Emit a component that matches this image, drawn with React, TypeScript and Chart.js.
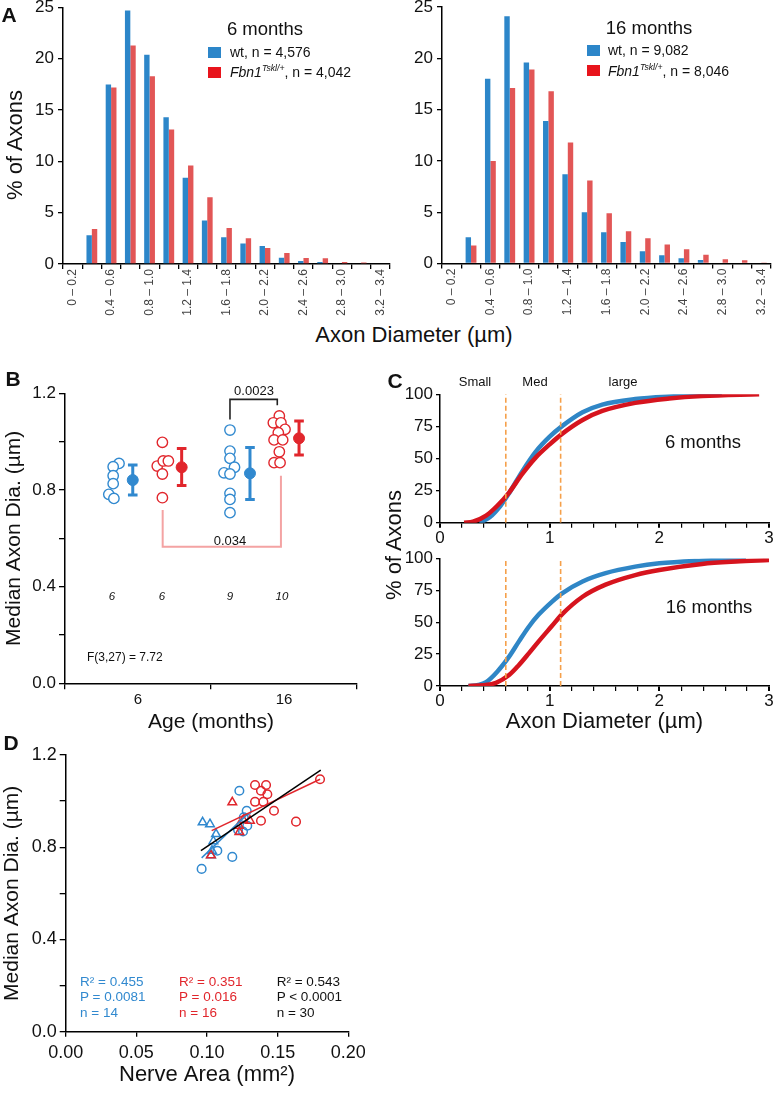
import React, { useEffect, useRef } from 'react';
import { Chart, registerables } from 'chart.js';
Chart.register(...registerables);

const FONT = '"Liberation Sans", Arial, Helvetica, sans-serif';
Chart.defaults.font.family = FONT;
Chart.defaults.color = '#111';

// ---------------- DATA ----------------
// Panel A: histograms (% of axons per diameter bin)
const binLabels = ['0 – 0.2', '0.2 – 0.4', '0.4 – 0.6', '0.6 – 0.8', '0.8 – 1.0', '1.0 – 1.2', '1.2 – 1.4', '1.4 – 1.6', '1.6 – 1.8', '1.8 – 2.0', '2.0 – 2.2', '2.2 – 2.4', '2.4 – 2.6', '2.6 – 2.8', '2.8 – 3.0', '3.0 – 3.2', '3.2 – 3.4'];
const histWt6 = [0, 2.8, 17.5, 24.7, 20.4, 14.3, 8.4, 4.25, 2.6, 2.0, 1.75, 0.6, 0.3, 0.2, 0, 0, 0];
const histFbn6 = [0, 3.4, 17.2, 21.3, 18.3, 13.1, 9.6, 6.5, 3.5, 2.5, 1.55, 1.07, 0.58, 0.55, 0.2, 0.15, 0];
const histWt16 = [0, 2.56, 18.0, 24.1, 19.6, 13.9, 8.7, 5.0, 3.05, 2.1, 1.2, 0.8, 0.5, 0.35, 0, 0, 0];
const histFbn16 = [0, 1.75, 10.0, 17.1, 18.9, 16.8, 11.8, 8.1, 4.9, 3.15, 2.45, 1.85, 1.4, 0.85, 0.42, 0.32, 0.05];

// Panel B: individual medians (x = jittered position, y = median diameter)
const bWt6X = [0.37, 0.33, 0.33, 0.33, 0.30, 0.335];
const bWt6Y = [0.910, 0.896, 0.859, 0.826, 0.782, 0.765];
const bFbn6X = [0.667, 0.632, 0.673, 0.708, 0.667, 0.667];
const bFbn6Y = [0.997, 0.899, 0.920, 0.920, 0.866, 0.768];
const bWt16X = [1.13, 1.13, 1.13, 1.161, 1.089, 1.13, 1.13, 1.13, 1.13];
const bWt16Y = [1.048, 0.961, 0.931, 0.894, 0.871, 0.866, 0.786, 0.761, 0.706];
const bFbn16X = [1.468, 1.427, 1.479, 1.507, 1.461, 1.432, 1.491, 1.468, 1.432, 1.473];
const bFbn16Y = [1.106, 1.078, 1.078, 1.051, 1.037, 1.007, 1.007, 0.958, 0.913, 0.913];
const bMeanX = [0.464, 0.799, 1.267, 1.603];
const bMeanY = [0.841, 0.894, 0.869, 1.014];
const bErrLo = [0.779, 0.818, 0.761, 0.945];
const bErrHi = [0.903, 0.972, 0.976, 1.085];
const bBracketBlackX = [1.13, 1.13, 1.454, 1.454];
const bBracketBlackY = [1.092, 1.175, 1.175, 1.151];
const bBracketPinkX = [0.669, 0.669, 1.479, 1.479];
const bBracketPinkY = [0.717, 0.565, 0.565, 0.859];

// Panel C: cumulative distributions
const cWt6X = [0.36, 0.45, 0.55, 0.63, 0.75, 0.87, 1.0, 1.11, 1.3, 1.48, 1.78, 2.09, 2.39, 2.57];
const cWt6Y = [0, 4, 13, 23, 40, 55, 67, 75, 86, 92, 96.3, 98.3, 99.3, 99.7];
const cFbn6X = [0.22, 0.3, 0.42, 0.52, 0.63, 0.75, 0.87, 1.0, 1.11, 1.3, 1.48, 1.78, 2.09, 2.39, 2.91];
const cFbn6Y = [0, 0.8, 5.5, 13, 23.5, 38, 50.5, 61, 69, 80, 87, 93.3, 96.7, 98.6, 100];
const cWt16X = [0.26, 0.35, 0.42, 0.52, 0.63, 0.72, 0.81, 0.9, 1.02, 1.11, 1.3, 1.51, 1.78, 2.0, 2.39, 2.79];
const cWt16Y = [0, 0.8, 3, 11, 23, 35, 46.5, 56, 66, 72.5, 82, 88.5, 93.6, 96.2, 98.3, 99.6];
const cFbn16X = [0.26, 0.4, 0.51, 0.63, 0.72, 0.81, 0.9, 1.02, 1.11, 1.3, 1.51, 1.78, 2.0, 2.39, 2.7, 3.0];
const cFbn16Y = [0, 0.6, 2.5, 8.6, 16.5, 25.6, 35, 47, 56, 70, 79.5, 87, 91, 95.7, 97.6, 98.8];
const cCutoffs = [0.6, 1.1];

// Panel D: nerve area vs median axon diameter
const dWt16X = [0.1229, 0.1281, 0.1285, 0.1255, 0.1220, 0.1073, 0.1179, 0.0962, 0.1260];
const dWt16Y = [1.045, 0.958, 0.893, 0.868, 0.875, 0.785, 0.758, 0.706, 0.930];
const dWt6X = [0.0969, 0.1021, 0.1064, 0.1045, 0.1035, 0.1028];
const dWt6Y = [0.908, 0.900, 0.857, 0.826, 0.785, 0.765];
const dFbn16X = [0.1340, 0.1418, 0.1382, 0.1427, 0.1340, 0.1399, 0.1474, 0.1382, 0.1630, 0.1800];
const dFbn16Y = [1.070, 1.070, 1.045, 1.030, 0.997, 0.997, 0.958, 0.915, 0.911, 1.095];
const dFbn6X = [0.1179, 0.1257, 0.1304, 0.1226, 0.1229, 0.1028];
const dFbn6Y = [0.995, 0.918, 0.915, 0.893, 0.866, 0.765];
const dFitWtX = [0.0962, 0.1292];
const dFitWtY = [0.754, 0.947];
const dFitFbnX = [0.1033, 0.1800];
const dFitFbnY = [0.872, 1.095];
const dFitAllX = [0.0957, 0.1805];
const dFitAllY = [0.785, 1.134];

// ---------------- STYLE ----------------
const BAR_BLUE = '#2c86c9';
const BAR_RED = '#e25656';
const BLUE = '#3189cf';
const RED = '#e1262c';
const C_BLUE = '#2f86c6';
const C_RED = '#d6141e';
const ORANGE = '#f5a04a';

const pts = (xs: number[], ys: number[]) => xs.map((x, i) => ({ x, y: ys[i] }));
const fixW = (w: number) => (s: any) => { s.width = w; s.paddingTop = 0; s.paddingBottom = 0; };
const fixH = (h: number) => (s: any) => { s.height = h; s.paddingLeft = 0; s.paddingRight = 0; };

const baseOpts = (pad: any) => ({
  responsive: false,
  maintainAspectRatio: false,
  animation: false,
  devicePixelRatio: 1,
  layout: { padding: { left: 0, bottom: 0, ...pad }, autoPadding: false },
  plugins: { legend: { display: false }, tooltip: { enabled: false } },
});

const gridOpts = (len: number) => ({ drawOnChartArea: false, color: '#000', tickLength: len, lineWidth: 1.3 });
const borderOpts = { color: '#000', width: 1.5 };

type Box = { left: number; top: number; width: number; height: number };

function ChartCanvas({ box, make }: { box: Box; make: () => any }) {
  const ref = useRef<HTMLCanvasElement>(null);
  useEffect(() => {
    const chart = new Chart(ref.current as HTMLCanvasElement, make());
    return () => chart.destroy();
  }, []);
  return (
    <canvas
      ref={ref}
      width={box.width}
      height={box.height}
      style={{ position: 'absolute', left: box.left, top: box.top, width: box.width, height: box.height }}
    />
  );
}

function T({ x, y, size, children, bold, italic, color, left, rotate }: any) {
  return (
    <div
      style={{
        position: 'absolute',
        left: x,
        top: y,
        transform: `translate(${left ? '0' : '-50%'}, -50%)${rotate ? ` rotate(${rotate}deg)` : ''}`,
        fontSize: size,
        fontWeight: bold ? 700 : 400,
        fontStyle: italic ? 'italic' : 'normal',
        color: color || '#111',
        whiteSpace: 'nowrap',
        fontFamily: FONT,
        lineHeight: 1,
      }}
    >
      {children}
    </div>
  );
}

function Swatch({ x, y, color }: any) {
  return <div style={{ position: 'absolute', left: x, top: y, width: 13, height: 11, background: color }} />;
}

// ---------------- CONFIGS ----------------
function histConfig(wt: number[], fbn: number[], yWidth: number, padTop: number, padRight: number, xHeight: number) {
  return {
    type: 'bar',
    data: {
      labels: binLabels,
      datasets: [
        { data: wt, backgroundColor: BAR_BLUE, categoryPercentage: 0.56, barPercentage: 1 },
        { data: fbn, backgroundColor: BAR_RED, categoryPercentage: 0.56, barPercentage: 1 },
      ],
    },
    options: {
      ...baseOpts({ top: padTop, right: padRight }),
      scales: {
        x: {
          grid: { ...gridOpts(5), offset: true },
          border: borderOpts,
          ticks: {
            autoSkip: false,
            maxRotation: 90,
            minRotation: 90,
            padding: 0,
            color: '#444',
            font: { size: 12 },
            callback: (_v: any, i: number) => (i % 2 === 0 ? binLabels[i] : ''),
          },
          afterFit: fixH(xHeight),
        },
        y: {
          min: 0,
          max: 25,
          ticks: { stepSize: 5, font: { size: 17 }, padding: 4, color: '#111' },
          grid: gridOpts(5),
          border: borderOpts,
          afterFit: fixW(yWidth),
        },
      },
    },
  };
}

function configB() {
  const open = (xs: number[], ys: number[], c: string) => ({
    data: pts(xs, ys), showLine: false, pointStyle: 'circle', pointRadius: 5.2,
    pointBorderColor: c, pointBackgroundColor: '#fff', pointBorderWidth: 1.4,
  });
  const meanColors = [BLUE, RED, BLUE, RED];
  const means = bMeanX.map((x, i) => ({
    data: [{ x, y: bMeanY[i] }], showLine: false, pointStyle: 'circle', pointRadius: 5.5,
    pointBorderColor: meanColors[i], pointBackgroundColor: meanColors[i], pointBorderWidth: 1,
  }));
  const errs = bMeanX.map((x, i) => ({
    data: [{ x, y: bErrLo[i] }, { x, y: bErrHi[i] }], showLine: true, borderColor: meanColors[i], borderWidth: 3,
    pointStyle: 'line', pointRadius: 4.8, pointBorderColor: meanColors[i], pointBorderWidth: 3,
  }));
  const line = (xs: number[], ys: number[], c: string, w: number) => ({
    data: pts(xs, ys), showLine: true, borderColor: c, borderWidth: w, pointRadius: 0, tension: 0,
  });
  return {
    type: 'scatter',
    data: {
      datasets: [
        ...means,
        ...errs,
        open(bWt6X, bWt6Y, BLUE),
        open(bFbn6X, bFbn6Y, RED),
        open(bWt16X, bWt16Y, BLUE),
        open(bFbn16X, bFbn16Y, RED),
        line(bBracketBlackX, bBracketBlackY, '#222', 1.6),
        line(bBracketPinkX, bBracketPinkY, '#f4a3a3', 2),
      ],
    },
    options: {
      ...baseOpts({ top: 13.3, right: 8 }),
      scales: {
        x: {
          type: 'linear', min: 0, max: 2,
          ticks: {
            stepSize: 0.5, autoSkip: false, padding: 2, font: { size: 15 }, color: '#111',
            callback: (v: number) => (v === 0.5 ? '6' : v === 1.5 ? '16' : ''),
          },
          grid: {
            ...gridOpts(6),
            color: (ctx: any) => (ctx.tick && Number.isInteger(ctx.tick.value) ? '#000' : 'rgba(0,0,0,0)'),
          },
          border: borderOpts,
          title: { display: true, text: 'Age (months)', font: { size: 21, lineHeight: 1.2 }, color: '#111', padding: { top: 0, bottom: 7 } },
          afterFit: fixH(58.7),
        },
        y: {
          min: 0, max: 1.2,
          ticks: {
            stepSize: 0.2, autoSkip: false, padding: 3, font: { size: 17 }, color: '#111',
            callback: (v: number) => (Math.round(v * 10) % 4 === 0 ? v.toFixed(1) : ''),
          },
          grid: gridOpts(6),
          border: borderOpts,
          title: { display: true, text: 'Median Axon Dia. (µm)', font: { size: 21, lineHeight: 1.2 }, color: '#111', padding: { top: 2, bottom: 0 } },
          afterFit: fixW(65),
        },
      },
    },
  };
}

function configC(wx: number[], wy: number[], fx: number[], fy: number[], padTop: number, xHeight: number, withTitle: boolean) {
  const curve = (xs: number[], ys: number[], c: string) => ({
    data: pts(xs, ys), borderColor: c, borderWidth: 4.5, pointRadius: 0, cubicInterpolationMode: 'monotone', fill: false,
  });
  const cut = (x: number) => ({
    data: [{ x, y: 0 }, { x, y: 100 }], borderColor: ORANGE, borderWidth: 1.6, borderDash: [5, 3], pointRadius: 0,
  });
  return {
    type: 'line',
    data: {
      datasets: [
        ...cCutoffs.map(cut),
        curve(fx, fy, C_RED),
        curve(wx, wy, C_BLUE),
      ],
    },
    options: {
      ...baseOpts({ top: padTop, right: 6 }),
      scales: {
        x: {
          type: 'linear', min: 0, max: 3,
          ticks: {
            stepSize: 0.2, autoSkip: false, padding: 0, font: { size: 17 }, color: '#111', maxRotation: 0,
            callback: (v: number) => (Math.abs(v - Math.round(v)) < 1e-6 ? String(Math.round(v)) : ''),
          },
          grid: {
            ...gridOpts(5),
            lineWidth: (ctx: any) => (ctx.tick && Math.abs(ctx.tick.value - Math.round(ctx.tick.value)) < 1e-6 ? 2 : 1.2),
          },
          border: borderOpts,
          title: withTitle
            ? { display: true, text: 'Axon Diameter (µm)', font: { size: 22, lineHeight: 1.2 }, color: '#111', padding: { top: 0, bottom: 7 } }
            : { display: false },
          afterFit: fixH(xHeight),
        },
        y: {
          min: 0, max: 100,
          ticks: { stepSize: 25, padding: 3, font: { size: 17 }, color: '#111' },
          grid: gridOpts(4),
          border: borderOpts,
          afterFit: fixW(60),
        },
      },
    },
  };
}

function configD() {
  const mk = (xs: number[], ys: number[], c: string, style: string, r: number) => ({
    data: pts(xs, ys), showLine: false, pointStyle: style, pointRadius: r,
    pointBorderColor: c, pointBackgroundColor: 'rgba(255,255,255,0)', pointBorderWidth: 1.5,
  });
  const line = (xs: number[], ys: number[], c: string) => ({
    data: pts(xs, ys), showLine: true, borderColor: c, borderWidth: 1.5, pointRadius: 0,
  });
  return {
    type: 'scatter',
    data: {
      datasets: [
        line(dFitAllX, dFitAllY, '#000'),
        line(dFitFbnX, dFitFbnY, RED),
        line(dFitWtX, dFitWtY, BLUE),
        mk(dFbn6X, dFbn6Y, RED, 'triangle', 5),
        mk(dFbn16X, dFbn16Y, RED, 'circle', 4.3),
        mk(dWt6X, dWt6Y, BLUE, 'triangle', 5),
        mk(dWt16X, dWt16Y, BLUE, 'circle', 4.3),
      ],
    },
    options: {
      ...baseOpts({ top: 10, right: 16.7 }),
      scales: {
        x: {
          type: 'linear', min: 0, max: 0.2,
          ticks: { stepSize: 0.05, autoSkip: false, padding: 6, font: { size: 18 }, color: '#111', callback: (v: number) => v.toFixed(2) },
          grid: gridOpts(5),
          border: borderOpts,
          title: { display: true, text: 'Nerve Area (mm²)', font: { size: 22, lineHeight: 1.2 }, color: '#111', padding: { top: 0, bottom: 5 } },
          afterFit: fixH(61.3),
        },
        y: {
          min: 0, max: 1.2,
          ticks: {
            stepSize: 0.2, autoSkip: false, padding: 3, font: { size: 18 }, color: '#111',
            callback: (v: number) => (Math.round(v * 10) % 4 === 0 ? v.toFixed(1) : ''),
          },
          grid: gridOpts(6),
          border: borderOpts,
          title: { display: true, text: 'Median Axon Dia. (µm)', font: { size: 21, lineHeight: 1.2 }, color: '#111', padding: { top: 0, bottom: 0 } },
          afterFit: fixW(65.7),
        },
      },
    },
  };
}

const Fbn = ({ n }: { n: string }) => (
  <span>
    <i>Fbn1</i>
    <sup style={{ fontSize: '0.62em', verticalAlign: 'super', lineHeight: 0 }}><i>Tskl/+</i></sup>, n = {n}
  </span>
);

export default function App() {
  return (
    <div style={{ position: 'absolute', left: 0, top: 0, width: 775, height: 1093, background: '#fff', overflow: 'hidden', fontFamily: FONT }}>
      {/* Panel A */}
      <ChartCanvas box={{ left: 0, top: 0, width: 392, height: 320 }} make={() => histConfig(histWt6, histFbn6, 63, 7.5, 2, 56)} />
      <ChartCanvas box={{ left: 392, top: 0, width: 383, height: 320 }} make={() => histConfig(histWt16, histFbn16, 50, 7, 4, 56.5)} />
      <T x={9} y={14} size={21} bold>A</T>
      <T x={15} y={145} size={22} rotate={-90}>% of Axons</T>
      <T x={414} y={335} size={22}>Axon Diameter (µm)</T>
      <T x={265} y={29} size={18.5}>6 months</T>
      <Swatch x={208} y={47} color={BAR_BLUE} />
      <T x={230} y={52} size={14} left>wt, n = 4,576</T>
      <Swatch x={208} y={67} color="#e8141c" />
      <T x={230} y={72} size={14} left><Fbn n="4,042" /></T>
      <T x={649} y={28} size={18.5}>16 months</T>
      <Swatch x={587} y={45} color={BAR_BLUE} />
      <T x={608} y={50} size={14} left>wt, n = 9,082</T>
      <Swatch x={587} y={65} color="#e8141c" />
      <T x={608} y={70.5} size={14} left><Fbn n="8,046" /></T>

      {/* Panel B */}
      <ChartCanvas box={{ left: 0, top: 380, width: 365, height: 362 }} make={configB} />
      <T x={13} y={378} size={21} bold>B</T>
      <T x={254} y={390} size={13}>0.0023</T>
      <T x={230} y={540} size={13}>0.034</T>
      <T x={112} y={597} size={11.5} italic>6</T>
      <T x={162} y={597} size={11.5} italic>6</T>
      <T x={230} y={597} size={11.5} italic>9</T>
      <T x={282} y={597} size={11.5} italic>10</T>
      <T x={87} y={657} size={12} left>F(3,27) = 7.72</T>

      {/* Panel C */}
      <ChartCanvas box={{ left: 380, top: 385, width: 395, height: 165 }} make={() => configC(cWt6X, cWt6Y, cFbn6X, cFbn6Y, 9.3, 27.3, false)} />
      <ChartCanvas box={{ left: 380, top: 550, width: 395, height: 192 }} make={() => configC(cWt16X, cWt16Y, cFbn16X, cFbn16Y, 8.5, 56, true)} />
      <T x={395} y={380} size={21} bold>C</T>
      <T x={394} y={545} size={22} rotate={-90}>% of Axons</T>
      <T x={475} y={381} size={13}>Small</T>
      <T x={535} y={381} size={13}>Med</T>
      <T x={623} y={381} size={13}>large</T>
      <T x={703} y={442} size={18.5}>6 months</T>
      <T x={709} y={606.5} size={18.5}>16 months</T>

      {/* Panel D */}
      <ChartCanvas box={{ left: 0, top: 745, width: 365, height: 348 }} make={configD} />
      <T x={11} y={742} size={21} bold>D</T>
      <T x={80} y={981.7} size={13.5} left color={BLUE}>R² = 0.455</T>
      <T x={80} y={997.3} size={13.5} left color={BLUE}>P = 0.0081</T>
      <T x={80} y={1013.3} size={13.5} left color={BLUE}>n = 14</T>
      <T x={179} y={981.7} size={13.5} left color={RED}>R² = 0.351</T>
      <T x={179} y={997.3} size={13.5} left color={RED}>P = 0.016</T>
      <T x={179} y={1013.3} size={13.5} left color={RED}>n = 16</T>
      <T x={276.7} y={981.7} size={13.5} left color="#111">R² = 0.543</T>
      <T x={276.7} y={997.3} size={13.5} left color="#111">P &lt; 0.0001</T>
      <T x={276.7} y={1013.3} size={13.5} left color="#111">n = 30</T>
    </div>
  );
}
